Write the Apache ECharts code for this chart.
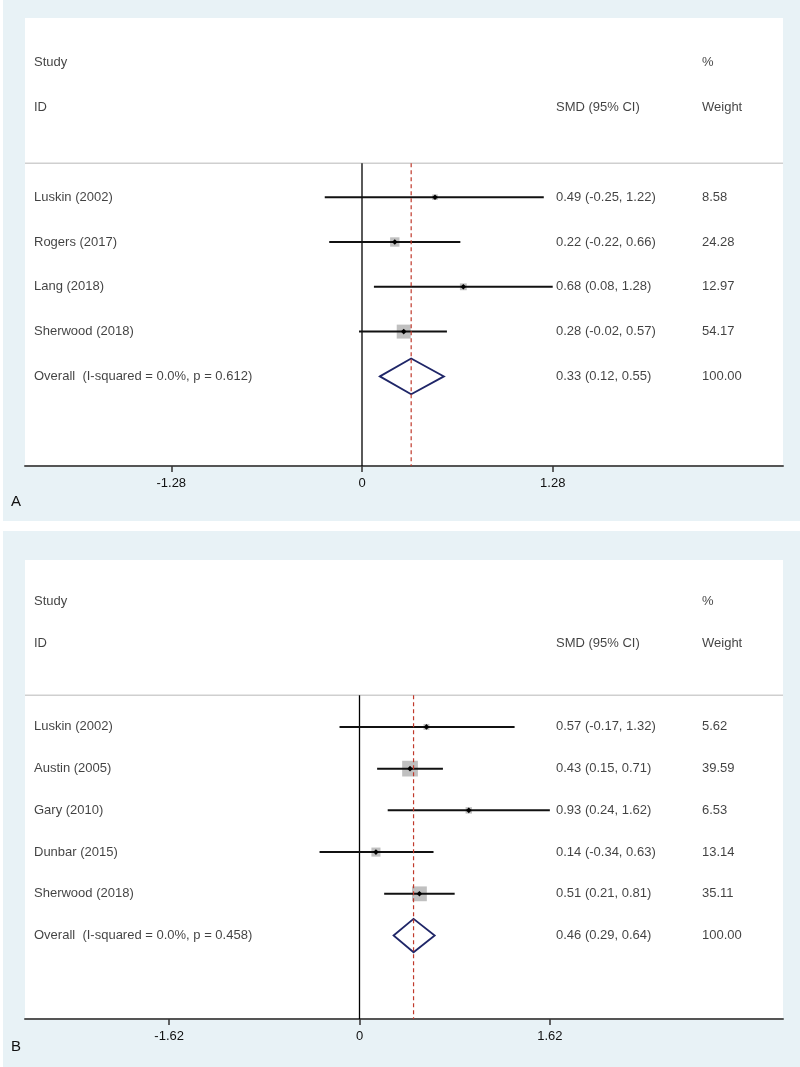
<!DOCTYPE html>
<html><head><meta charset="utf-8">
<script src="https://cdn.jsdelivr.net/npm/echarts@6/dist/echarts.min.js"></script>
<style>
html,body{margin:0;padding:0;background:#fff}
.bg{position:absolute;left:3px;width:797px;background:#e8f2f6}
#c{position:absolute;left:0;top:0;width:800px;height:1067px}
</style>
</head><body>
<div class="bg" style="top:0;height:521px"></div>
<div class="bg" style="top:531px;height:536px"></div>
<div id="c"></div>
<script>
// ---------- Panel A data ----------
const studiesA = ['Luskin (2002)', 'Rogers (2017)', 'Lang (2018)', 'Sherwood (2018)'];
const smdA     = [0.49, 0.22, 0.68, 0.28];
const lowA     = [-0.25, -0.22, 0.08, -0.02];
const highA    = [1.22, 0.66, 1.28, 0.57];
const weightA  = [8.58, 24.28, 12.97, 54.17];
const overallLabelA = 'Overall  (I-squared = 0.0%, p = 0.612)';
const overallA = [0.33, 0.12, 0.55];   // smd, low, high
const overallWeightA = 100.00;
const ticksA = [-1.28, 0, 1.28];

// ---------- Panel B data ----------
const studiesB = ['Luskin (2002)', 'Austin (2005)', 'Gary (2010)', 'Dunbar (2015)', 'Sherwood (2018)'];
const smdB     = [0.57, 0.43, 0.93, 0.14, 0.51];
const lowB     = [-0.17, 0.15, 0.24, -0.34, 0.21];
const highB    = [1.32, 0.71, 1.62, 0.63, 0.81];
const weightB  = [5.62, 39.59, 6.53, 13.14, 35.11];
const overallLabelB = 'Overall  (I-squared = 0.0%, p = 0.458)';
const overallB = [0.46, 0.29, 0.64];
const overallWeightB = 100.00;
const ticksB = [-1.62, 0, 1.62];

// header texts
const headStudy = 'Study', headId = 'ID', headCI = 'SMD (95% CI)', headPct = '%', headWeight = 'Weight';

const FONT = "'Liberation Sans', Arial, sans-serif";
const TXT = '#111';

function fmt(v){ return v.toFixed(2); }

function forestItem(scale){
  return function(params, api){
    const y = api.value(4);
    const pL = api.coord([api.value(1), y]);
    const pH = api.coord([api.value(2), y]);
    const pM = api.coord([api.value(0), y]);
    const s = scale * Math.sqrt(api.value(3));
    const d = 2.8;
    return {type:'group', children:[
      {type:'rect', shape:{x:pM[0]-s/2, y:pM[1]-s/2, width:s, height:s}, style:{fill:'#c0c0c0'}},
      {type:'line', shape:{x1:pL[0], y1:pL[1], x2:pH[0], y2:pH[1]}, style:{stroke:'#111', lineWidth:2}},
      {type:'polygon', shape:{points:[[pM[0]-d,pM[1]],[pM[0],pM[1]-d],[pM[0]+d,pM[1]],[pM[0],pM[1]+d]]}, style:{fill:'#000'}}
    ]};
  };
}
function diamondItem(params, api){
  const y = api.value(3);
  const h = 0.4;
  const a = api.coord([api.value(1), y]);
  const t = api.coord([api.value(0), y - h]);
  const b = api.coord([api.value(2), y]);
  const u = api.coord([api.value(0), y + h]);
  return {type:'polygon', shape:{points:[a,t,b,u]}, style:{fill:'none', stroke:'#1f2668', lineWidth:1.8}};
}

const option = {
  animation: false,
  backgroundColor: 'transparent',
  grid: [], xAxis: [], yAxis: [], series: [],
  graphic: [
    {type:'text', left:11, top:494, style:{text:'A', fontSize:15, fontFamily:FONT, fill:TXT}},
    {type:'text', left:11, top:1039, style:{text:'B', fontSize:15, fontFamily:FONT, fill:TXT}}
  ]
};

function addPanel(p, cfg){
  const {studies, smd, low, high, weight, overallLabel, overall, overallWeight, ticks,
         top, height, rows, xmin, xmax, boxScale} = cfg;
  option.grid.push({left:25, top:top, width:758, height:height, show:true, backgroundColor:'#fff', borderWidth:0});
  option.xAxis.push({
    type:'value', gridIndex:p, min:xmin, max:xmax, position:'bottom',
    axisLine:{show:true, onZero:false, lineStyle:{color:'#555', width:2}},
    axisTick:{show:true, customValues:ticks, length:6, lineStyle:{color:'#333', width:1.5}},
    axisLabel:{customValues:ticks, margin:11, fontSize:13, color:TXT, fontFamily:FONT},
    splitLine:{show:false}
  });
  option.xAxis.push({type:'value', gridIndex:p, min:25, max:783, show:false});
  option.yAxis.push({type:'value', gridIndex:p, inverse:true, min:-1, max:rows, show:false});
  const xa = 2*p, xt = 2*p+1;
  const sepRow = 2.24;
  const n = studies.length;
  const overallRow = n + 3;

  // separator
  option.series.push({type:'line', xAxisIndex:xt, yAxisIndex:p, symbol:'none', silent:true,
    data:[[25, sepRow],[783, sepRow]], lineStyle:{color:'#cfcfcf', width:1.5}, z:1});
  // zero line
  option.series.push({type:'line', xAxisIndex:xa, yAxisIndex:p, symbol:'none', silent:true,
    data:[[0, sepRow],[0, rows]], lineStyle:{color:'#000', width:1.3}, z:2});
  // studies
  option.series.push({type:'custom', xAxisIndex:xa, yAxisIndex:p, renderItem:forestItem(boxScale), z:3,
    data: studies.map((s,i)=>[smd[i], low[i], high[i], weight[i], i+3])});
  // overall diamond
  option.series.push({type:'custom', xAxisIndex:xa, yAxisIndex:p, renderItem:diamondItem, z:4,
    data:[[overall[0], overall[1], overall[2], overallRow]]});
  // red dashed overall line
  option.series.push({type:'line', xAxisIndex:xa, yAxisIndex:p, symbol:'none', silent:true,
    data:[[overall[0], sepRow],[overall[0], rows]], lineStyle:{color:'#c0392b', width:1.2, type:[4,3]}, z:5});
  // texts
  const texts = [
    {value:[34, 0], name:headStudy}, {value:[34, 1], name:headId},
    {value:[556, 1], name:headCI},
    {value:[702, 0], name:headPct}, {value:[702, 1], name:headWeight}
  ];
  studies.forEach((s,i)=>{
    texts.push({value:[34, i+3], name:s});
    texts.push({value:[556, i+3], name:`${fmt(smd[i])} (${fmt(low[i])}, ${fmt(high[i])})`});
    texts.push({value:[702, i+3], name:fmt(weight[i])});
  });
  texts.push({value:[34, overallRow], name:overallLabel});
  texts.push({value:[556, overallRow], name:`${fmt(overall[0])} (${fmt(overall[1])}, ${fmt(overall[2])})`});
  texts.push({value:[702, overallRow], name:fmt(overallWeight)});
  option.series.push({type:'scatter', xAxisIndex:xt, yAxisIndex:p, symbolSize:0, silent:true, z:6,
    data:texts,
    label:{show:true, position:'right', distance:0, formatter:'{b}', fontSize:13, fontFamily:FONT, color:TXT, verticalAlign:'middle'}
  });
}

addPanel(0, {studies:studiesA, smd:smdA, low:lowA, high:highA, weight:weightA,
  overallLabel:overallLabelA, overall:overallA, overallWeight:overallWeightA, ticks:ticksA,
  top:18, height:448, rows:9, xmin:-337/149, xmax:421/149, boxScale:1.9});
addPanel(1, {studies:studiesB, smd:smdB, low:lowB, high:highB, weight:weightB,
  overallLabel:overallLabelB, overall:overallB, overallWeight:overallWeightB, ticks:ticksB,
  top:560, height:459, rows:10, xmin:-334.5/117.5, xmax:423.5/117.5, boxScale:2.5});

const chart = echarts.init(document.getElementById('c'), null, {renderer:'canvas'});
chart.setOption(option);
</script>
</body></html>
